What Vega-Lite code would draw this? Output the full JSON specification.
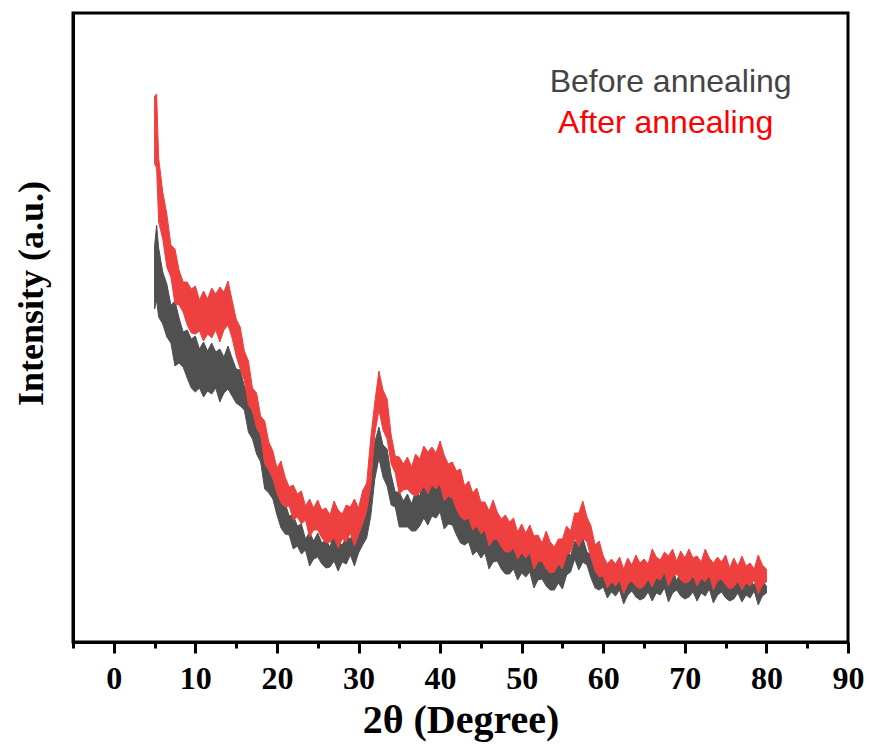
{
  "$schema": "https://vega.github.io/schema/vega-lite/v6.json",
  "width": 775,
  "height": 629,
  "autosize": {"type": "none"},
  "padding": {"left": 73, "top": 13, "right": 23, "bottom": 110},
  "background": "white",
  "config": {"view": {"stroke": "black", "strokeWidth": 3}, "font": "Liberation Serif"},
  "datasets": {
    "before": [
      {"x":5.0,"hi":396,"lo":333},{"x":5.25,"hi":417,"lo":342},{"x":5.5,"hi":394,"lo":325},{"x":6.0,"hi":370,"lo":318},{"x":6.5,"hi":358,"lo":305},{"x":7.0,"hi":337,"lo":299},{"x":7.5,"hi":341,"lo":276},{"x":8.0,"hi":324,"lo":279},{"x":8.5,"hi":310,"lo":275},{"x":9.0,"hi":312,"lo":264},{"x":9.5,"hi":303,"lo":254},{"x":10.0,"hi":306,"lo":250},{"x":10.5,"hi":293,"lo":254},{"x":11.0,"hi":300,"lo":245},{"x":11.5,"hi":291,"lo":251},{"x":12.0,"hi":299,"lo":248},{"x":12.5,"hi":290,"lo":254},{"x":13.0,"hi":293,"lo":240},{"x":13.5,"hi":285,"lo":249},{"x":14.0,"hi":296,"lo":253},{"x":14.5,"hi":284,"lo":246},{"x":15.0,"hi":273,"lo":239},{"x":15.5,"hi":272,"lo":236},{"x":16.0,"hi":256,"lo":232},{"x":16.5,"hi":251,"lo":210},{"x":17.0,"hi":228,"lo":203},{"x":17.5,"hi":226,"lo":188},{"x":18.0,"hi":206,"lo":180},{"x":18.5,"hi":202,"lo":153},{"x":19.0,"hi":182,"lo":149},{"x":19.5,"hi":173,"lo":143},{"x":20.0,"hi":155,"lo":127},{"x":20.5,"hi":158,"lo":114},{"x":21.0,"hi":139,"lo":108},{"x":21.5,"hi":126,"lo":107},{"x":22.0,"hi":127,"lo":93},{"x":22.5,"hi":116,"lo":96},{"x":23.0,"hi":118,"lo":88},{"x":23.5,"hi":103,"lo":92},{"x":24.0,"hi":110,"lo":76},{"x":24.5,"hi":101,"lo":83},{"x":25.0,"hi":109,"lo":85},{"x":25.5,"hi":99,"lo":78},{"x":26.0,"hi":102,"lo":74},{"x":26.5,"hi":95,"lo":75},{"x":27.0,"hi":109,"lo":81},{"x":27.5,"hi":100,"lo":71},{"x":28.0,"hi":97,"lo":80},{"x":28.5,"hi":105,"lo":78},{"x":29.0,"hi":103,"lo":87},{"x":29.5,"hi":113,"lo":76},{"x":30.0,"hi":106,"lo":89},{"x":30.5,"hi":126,"lo":97},{"x":31.0,"hi":139,"lo":104},{"x":31.5,"hi":179,"lo":126},{"x":32.0,"hi":200,"lo":163},{"x":32.5,"hi":215,"lo":184},{"x":33.0,"hi":197,"lo":165},{"x":33.5,"hi":193,"lo":156},{"x":34.0,"hi":167,"lo":137},{"x":34.5,"hi":150,"lo":135},{"x":35.0,"hi":150,"lo":115},{"x":35.5,"hi":141,"lo":115},{"x":36.0,"hi":148,"lo":115},{"x":36.5,"hi":138,"lo":111},{"x":37.0,"hi":151,"lo":111},{"x":37.5,"hi":146,"lo":116},{"x":38.0,"hi":159,"lo":124},{"x":38.5,"hi":153,"lo":117},{"x":39.0,"hi":159,"lo":126},{"x":39.5,"hi":154,"lo":124},{"x":40.0,"hi":167,"lo":130},{"x":40.5,"hi":155,"lo":113},{"x":41.0,"hi":147,"lo":118},{"x":41.5,"hi":150,"lo":117},{"x":42.0,"hi":142,"lo":107},{"x":42.5,"hi":145,"lo":99},{"x":43.0,"hi":130,"lo":97},{"x":43.5,"hi":136,"lo":100},{"x":44.0,"hi":126,"lo":87},{"x":44.5,"hi":131,"lo":91},{"x":45.0,"hi":118,"lo":84},{"x":45.5,"hi":118,"lo":89},{"x":46.0,"hi":109,"lo":73},{"x":46.5,"hi":121,"lo":80},{"x":47.0,"hi":110,"lo":81},{"x":47.5,"hi":103,"lo":73},{"x":48.0,"hi":107,"lo":68},{"x":48.5,"hi":101,"lo":68},{"x":49.0,"hi":106,"lo":73},{"x":49.5,"hi":91,"lo":62},{"x":50.0,"hi":99,"lo":69},{"x":50.5,"hi":90,"lo":65},{"x":51.0,"hi":98,"lo":70},{"x":51.5,"hi":87,"lo":54},{"x":52.0,"hi":88,"lo":62},{"x":52.5,"hi":80,"lo":63},{"x":53.0,"hi":92,"lo":56},{"x":53.5,"hi":81,"lo":52},{"x":54.0,"hi":75,"lo":52},{"x":54.5,"hi":82,"lo":59},{"x":55.0,"hi":81,"lo":53},{"x":55.5,"hi":93,"lo":67},{"x":56.0,"hi":86,"lo":70},{"x":56.5,"hi":101,"lo":83},{"x":57.0,"hi":96,"lo":72},{"x":57.5,"hi":104,"lo":80},{"x":58.0,"hi":90,"lo":77},{"x":58.5,"hi":87,"lo":64},{"x":59.0,"hi":75,"lo":54},{"x":59.5,"hi":84,"lo":52},{"x":60.0,"hi":71,"lo":55},{"x":60.5,"hi":64,"lo":44},{"x":61.0,"hi":69,"lo":50},{"x":61.5,"hi":64,"lo":46},{"x":62.0,"hi":70,"lo":52},{"x":62.5,"hi":58,"lo":38},{"x":63.0,"hi":68,"lo":47},{"x":63.5,"hi":61,"lo":51},{"x":64.0,"hi":72,"lo":45},{"x":64.5,"hi":63,"lo":42},{"x":65.0,"hi":66,"lo":44},{"x":65.5,"hi":60,"lo":50},{"x":66.0,"hi":75,"lo":41},{"x":66.5,"hi":66,"lo":49},{"x":67.0,"hi":63,"lo":47},{"x":67.5,"hi":70,"lo":54},{"x":68.0,"hi":66,"lo":40},{"x":68.5,"hi":73,"lo":49},{"x":69.0,"hi":61,"lo":52},{"x":69.5,"hi":71,"lo":46},{"x":70.0,"hi":64,"lo":43},{"x":70.5,"hi":74,"lo":45},{"x":71.0,"hi":64,"lo":50},{"x":71.5,"hi":67,"lo":41},{"x":72.0,"hi":61,"lo":49},{"x":72.5,"hi":74,"lo":46},{"x":73.0,"hi":65,"lo":53},{"x":73.5,"hi":61,"lo":39},{"x":74.0,"hi":67,"lo":47},{"x":74.5,"hi":63,"lo":50},{"x":75.0,"hi":70,"lo":44},{"x":75.5,"hi":57,"lo":41},{"x":76.0,"hi":67,"lo":43},{"x":76.5,"hi":60,"lo":49},{"x":77.0,"hi":69,"lo":40},{"x":77.5,"hi":60,"lo":47},{"x":78.0,"hi":63,"lo":44},{"x":78.5,"hi":56,"lo":51},{"x":79.0,"hi":70,"lo":37},{"x":79.5,"hi":61,"lo":46},{"x":80.0,"hi":56,"lo":49}
    ],
    "after": [
      {"x":5.0,"hi":546,"lo":478},{"x":5.25,"hi":548,"lo":474},{"x":5.5,"hi":484,"lo":420},{"x":6.0,"hi":450,"lo":403},{"x":6.5,"hi":428,"lo":375},{"x":7.0,"hi":397,"lo":365},{"x":7.5,"hi":393,"lo":338},{"x":8.0,"hi":372,"lo":337},{"x":8.5,"hi":360,"lo":330},{"x":9.0,"hi":360,"lo":317},{"x":9.5,"hi":353,"lo":309},{"x":10.0,"hi":356,"lo":308},{"x":10.5,"hi":342,"lo":311},{"x":11.0,"hi":351,"lo":301},{"x":11.5,"hi":343,"lo":308},{"x":12.0,"hi":354,"lo":304},{"x":12.5,"hi":348,"lo":312},{"x":13.0,"hi":355,"lo":300},{"x":13.5,"hi":350,"lo":312},{"x":14.0,"hi":361,"lo":317},{"x":14.5,"hi":342,"lo":304},{"x":15.0,"hi":323,"lo":286},{"x":15.5,"hi":315,"lo":273},{"x":16.0,"hi":291,"lo":262},{"x":16.5,"hi":281,"lo":237},{"x":17.0,"hi":254,"lo":231},{"x":17.5,"hi":249,"lo":214},{"x":18.0,"hi":226,"lo":207},{"x":18.5,"hi":221,"lo":178},{"x":19.0,"hi":200,"lo":172},{"x":19.5,"hi":191,"lo":163},{"x":20.0,"hi":174,"lo":149},{"x":20.5,"hi":181,"lo":139},{"x":21.0,"hi":165,"lo":135},{"x":21.5,"hi":155,"lo":136},{"x":22.0,"hi":157,"lo":122},{"x":22.5,"hi":148,"lo":125},{"x":23.0,"hi":151,"lo":118},{"x":23.5,"hi":136,"lo":122},{"x":24.0,"hi":143,"lo":105},{"x":24.5,"hi":134,"lo":112},{"x":25.0,"hi":142,"lo":112},{"x":25.5,"hi":132,"lo":104},{"x":26.0,"hi":134,"lo":99},{"x":26.5,"hi":127,"lo":100},{"x":27.0,"hi":141,"lo":104},{"x":27.5,"hi":132,"lo":94},{"x":28.0,"hi":128,"lo":103},{"x":28.5,"hi":137,"lo":100},{"x":29.0,"hi":135,"lo":109},{"x":29.5,"hi":143,"lo":96},{"x":30.0,"hi":134,"lo":107},{"x":30.5,"hi":151,"lo":118},{"x":31.0,"hi":159,"lo":131},{"x":31.5,"hi":204,"lo":156},{"x":32.0,"hi":240,"lo":208},{"x":32.5,"hi":271,"lo":232},{"x":33.0,"hi":252,"lo":212},{"x":33.5,"hi":243,"lo":203},{"x":34.0,"hi":207,"lo":178},{"x":34.5,"hi":186,"lo":169},{"x":35.0,"hi":185,"lo":148},{"x":35.5,"hi":178,"lo":152},{"x":36.0,"hi":185,"lo":153},{"x":36.5,"hi":175,"lo":148},{"x":37.0,"hi":188,"lo":146},{"x":37.5,"hi":183,"lo":149},{"x":38.0,"hi":196,"lo":156},{"x":38.5,"hi":190,"lo":148},{"x":39.0,"hi":195,"lo":157},{"x":39.5,"hi":189,"lo":153},{"x":40.0,"hi":201,"lo":158},{"x":40.5,"hi":187,"lo":141},{"x":41.0,"hi":178,"lo":146},{"x":41.5,"hi":180,"lo":144},{"x":42.0,"hi":171,"lo":133},{"x":42.5,"hi":173,"lo":125},{"x":43.0,"hi":156,"lo":122},{"x":43.5,"hi":161,"lo":124},{"x":44.0,"hi":149,"lo":112},{"x":44.5,"hi":154,"lo":116},{"x":45.0,"hi":140,"lo":108},{"x":45.5,"hi":140,"lo":112},{"x":46.0,"hi":131,"lo":96},{"x":46.5,"hi":142,"lo":102},{"x":47.0,"hi":130,"lo":103},{"x":47.5,"hi":123,"lo":95},{"x":48.0,"hi":127,"lo":90},{"x":48.5,"hi":120,"lo":90},{"x":49.0,"hi":124,"lo":94},{"x":49.5,"hi":110,"lo":83},{"x":50.0,"hi":118,"lo":89},{"x":50.5,"hi":109,"lo":84},{"x":51.0,"hi":117,"lo":89},{"x":51.5,"hi":106,"lo":73},{"x":52.0,"hi":107,"lo":80},{"x":52.5,"hi":99,"lo":81},{"x":53.0,"hi":111,"lo":73},{"x":53.5,"hi":100,"lo":69},{"x":54.0,"hi":95,"lo":70},{"x":54.5,"hi":103,"lo":78},{"x":55.0,"hi":103,"lo":73},{"x":55.5,"hi":116,"lo":87},{"x":56.0,"hi":111,"lo":90},{"x":56.5,"hi":129,"lo":104},{"x":57.0,"hi":129,"lo":95},{"x":57.5,"hi":141,"lo":104},{"x":58.0,"hi":125,"lo":100},{"x":58.5,"hi":116,"lo":84},{"x":59.0,"hi":97,"lo":71},{"x":59.5,"hi":101,"lo":65},{"x":60.0,"hi":86,"lo":66},{"x":60.5,"hi":78,"lo":54},{"x":61.0,"hi":83,"lo":60},{"x":61.5,"hi":78,"lo":56},{"x":62.0,"hi":85,"lo":62},{"x":62.5,"hi":73,"lo":48},{"x":63.0,"hi":84,"lo":58},{"x":63.5,"hi":77,"lo":61},{"x":64.0,"hi":87,"lo":56},{"x":64.5,"hi":79,"lo":53},{"x":65.0,"hi":83,"lo":56},{"x":65.5,"hi":78,"lo":63},{"x":66.0,"hi":93,"lo":55},{"x":66.5,"hi":85,"lo":64},{"x":67.0,"hi":82,"lo":62},{"x":67.5,"hi":90,"lo":70},{"x":68.0,"hi":86,"lo":56},{"x":68.5,"hi":93,"lo":65},{"x":69.0,"hi":81,"lo":68},{"x":69.5,"hi":91,"lo":62},{"x":70.0,"hi":84,"lo":59},{"x":70.5,"hi":93,"lo":60},{"x":71.0,"hi":84,"lo":66},{"x":71.5,"hi":86,"lo":56},{"x":72.0,"hi":80,"lo":64},{"x":72.5,"hi":93,"lo":60},{"x":73.0,"hi":84,"lo":67},{"x":73.5,"hi":79,"lo":52},{"x":74.0,"hi":85,"lo":61},{"x":74.5,"hi":80,"lo":63},{"x":75.0,"hi":87,"lo":57},{"x":75.5,"hi":74,"lo":53},{"x":76.0,"hi":84,"lo":55},{"x":76.5,"hi":76,"lo":61},{"x":77.0,"hi":86,"lo":52},{"x":77.5,"hi":76,"lo":59},{"x":78.0,"hi":79,"lo":56},{"x":78.5,"hi":73,"lo":62},{"x":79.0,"hi":87,"lo":48},{"x":79.5,"hi":77,"lo":57},{"x":80.0,"hi":73,"lo":60}
    ],
    "labels": [
      {"x": 68.26, "y": 550, "t": "Before annealing"},
      {"x": 67.65, "y": 509, "t": "After annealing"}
    ]
  },
  "layer": [
    {
      "data": {"name": "before"},
      "mark": {"type": "area", "color": "#505050", "stroke": "#505050", "strokeWidth": 1},
      "encoding": {
        "x": {
          "field": "x", "type": "quantitative",
          "scale": {"domain": [-5, 90], "nice": false, "zero": false},
          "axis": {
            "values": [-5, 0, 5, 10, 15, 20, 25, 30, 35, 40, 45, 50, 55, 60, 65, 70, 75, 80, 85, 90],
            "title": "2θ (Degree)",
            "titleFont": "Liberation Serif", "titleFontSize": 40, "titleFontWeight": "bold", "titleColor": "black",
            "titlePadding": 6,
            "labelFont": "Liberation Serif", "labelFontSize": 32, "labelFontWeight": "bold", "labelColor": "black",
            "labelExpr": "datum.value % 10 === 0 ? datum.label : ''",
            "labelPadding": 10, "labelFlush": false, "labelOverlap": false,
            "tickSize": {"condition": {"test": "datum.value % 10 === 0", "value": 11}, "value": 6},
            "tickWidth": 3, "tickColor": "black",
            "domainColor": "black", "domainWidth": 3, "grid": false
          }
        },
        "y": {
          "field": "lo", "type": "quantitative",
          "scale": {"domain": [0, 629], "nice": false, "zero": false},
          "axis": {
            "title": "Intensity (a.u.)",
            "labels": false, "ticks": false, "grid": false,
            "domainColor": "black", "domainWidth": 3,
            "titleFont": "Liberation Serif", "titleFontSize": 36, "titleFontWeight": "bold", "titleColor": "black",
            "titleAngle": -90, "titleX": -31, "titleY": 280, "titleAlign": "center", "titleBaseline": "alphabetic"
          }
        },
        "y2": {"field": "hi"}
      }
    },
    {
      "data": {"name": "after"},
      "mark": {"type": "area", "color": "#ef4040", "stroke": "#ef4040", "strokeWidth": 1},
      "encoding": {
        "x": {"field": "x", "type": "quantitative"},
        "y": {"field": "lo", "type": "quantitative"},
        "y2": {"field": "hi"}
      }
    },
    {
      "data": {"name": "labels"},
      "mark": {"type": "text", "font": "Liberation Sans", "fontSize": 32, "align": "center", "baseline": "alphabetic"},
      "encoding": {
        "x": {"field": "x", "type": "quantitative"},
        "y": {"field": "y", "type": "quantitative"},
        "text": {"field": "t"},
        "color": {
          "field": "t", "type": "nominal",
          "scale": {"domain": ["Before annealing", "After annealing"], "range": ["#444444", "#ff0000"]},
          "legend": null
        }
      }
    }
  ]
}
